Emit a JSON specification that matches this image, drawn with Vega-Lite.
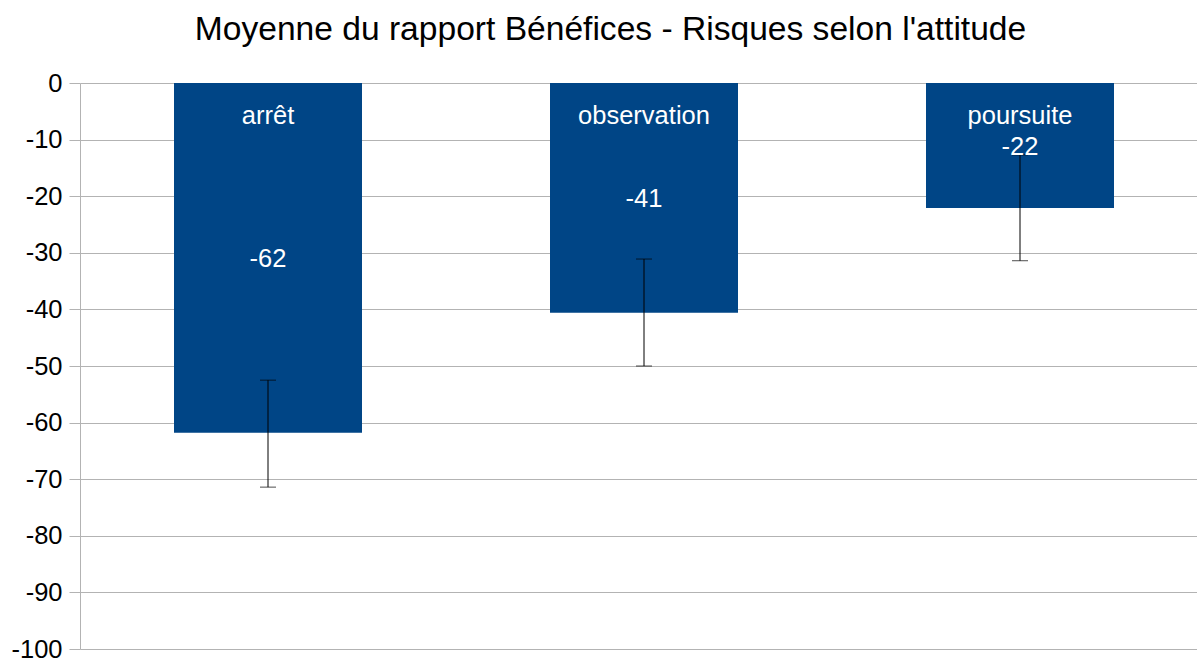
{
  "$schema": "https://vega.github.io/schema/vega-lite/v6.json",
  "width": 1117,
  "height": 566,
  "autosize": {"type": "none"},
  "padding": {"left": 80, "top": 83, "right": 0, "bottom": 12},
  "background": "white",
  "config": {
    "font": "Liberation Sans",
    "view": {"stroke": null}
  },
  "title": {
    "text": "Moyenne du rapport Bénéfices - Risques selon l'attitude",
    "font": "Liberation Sans",
    "fontSize": 33.6,
    "fontWeight": "normal",
    "color": "#000000",
    "anchor": "middle",
    "frame": "group",
    "dx": -28,
    "baseline": "alphabetic",
    "offset": -3
  },
  "data": {
    "values": [
      {"attitude": "arrêt", "value": -61.8, "label": "-62", "lo": -71.4, "hi": -52.5},
      {"attitude": "observation", "value": -40.6, "label": "-41", "lo": -50.0, "hi": -31.1},
      {"attitude": "poursuite", "value": -22.1, "label": "-22", "lo": -31.4, "hi": -12.7}
    ]
  },
  "transform": [{"calculate": "datum.value / 2", "as": "mid"}],
  "encoding": {
    "x": {
      "field": "attitude",
      "type": "nominal",
      "sort": null,
      "scale": {"range": [0, 1128], "paddingInner": 0.5, "paddingOuter": 0.25},
      "axis": {
        "orient": "top",
        "title": null,
        "labels": false,
        "bandPosition": 0,
        "tickSize": -12,
        "tickColor": "#b3b3b3",
        "domain": false,
        "grid": false
      }
    }
  },
  "layer": [
    {
      "mark": {"type": "bar", "color": "#004586"},
      "encoding": {
        "y": {
          "field": "value",
          "type": "quantitative",
          "scale": {"domain": [-100, 0], "nice": false},
          "axis": {
            "title": null,
            "values": [0, -10, -20, -30, -40, -50, -60, -70, -80, -90, -100],
            "labelExpr": "'' + datum.value",
            "labelFontSize": 25.5,
            "labelColor": "#000000",
            "labelFont": "Liberation Sans",
            "labelPadding": 7,
            "tickSize": 11,
            "tickColor": "#b3b3b3",
            "domainColor": "#b3b3b3",
            "gridColor": "#b3b3b3",
            "grid": true,
            "gridWidth": 1
          }
        }
      }
    },
    {
      "mark": {"type": "rule", "color": "#000000", "strokeWidth": 1},
      "encoding": {
        "y": {"field": "lo", "type": "quantitative"},
        "y2": {"field": "hi"}
      }
    },
    {
      "mark": {"type": "tick", "color": "#000000", "orient": "horizontal", "size": 16, "thickness": 1},
      "encoding": {"y": {"field": "lo", "type": "quantitative"}}
    },
    {
      "mark": {"type": "tick", "color": "#000000", "orient": "horizontal", "size": 16, "thickness": 1},
      "encoding": {"y": {"field": "hi", "type": "quantitative"}}
    },
    {
      "mark": {"type": "text", "color": "#ffffff", "fontSize": 25.5, "baseline": "middle", "dy": 33},
      "encoding": {
        "y": {"datum": 0, "type": "quantitative"},
        "text": {"field": "attitude"}
      }
    },
    {
      "mark": {"type": "text", "color": "#ffffff", "fontSize": 25.5, "baseline": "middle", "dy": 1.5},
      "encoding": {
        "y": {"field": "mid", "type": "quantitative"},
        "text": {"field": "label"}
      }
    }
  ]
}
